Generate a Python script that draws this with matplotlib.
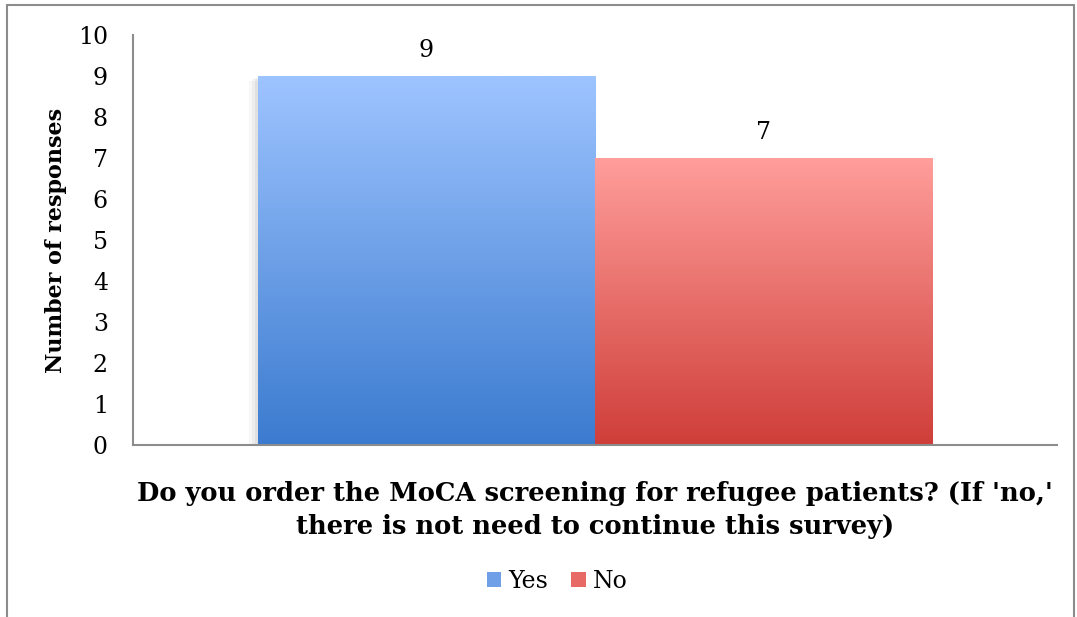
import matplotlib
matplotlib.use("Agg")
import matplotlib.pyplot as plt
import numpy as np
from matplotlib.colors import LinearSegmentedColormap
from matplotlib.patches import Rectangle, Patch

# data
categories = [""]
series_names = ["Yes", "No"]
series_values = [9, 7]
top_colors = ["#9EC4FF", "#FF9E9B"]
bottom_colors = ["#3B7BCF", "#CF3E39"]

fig = plt.figure(figsize=(10.77, 6.17), dpi=100)
ax = fig.add_axes([133 / 1077, 1 - 445 / 617, 924 / 1077, 410 / 617])

# outer frame like the original sheet
fig.patches.append(Rectangle((7 / 1077, -0.05), 1067 / 1077, 1.05 - 5 / 617,
                             transform=fig.transFigure, fill=False,
                             edgecolor="#8c8c8c", linewidth=1.5))

width = 0.365
x = np.arange(len(categories))
offsets = [-width / 2, width / 2]
for name, val, off, ctop, cbot in zip(series_names, series_values, offsets, top_colors, bottom_colors):
    cmap = LinearSegmentedColormap.from_list(name, [cbot, ctop])
    left = x[0] + off - width / 2
    # soft shadow
    for k, a in enumerate([0.05, 0.04, 0.03]):
        ax.add_patch(Rectangle((left - 0.003 * (k + 1), -0.04 * (k + 1)), width, val,
                               facecolor="#000000", alpha=a, edgecolor="none", zorder=1))
    bar = ax.bar(x[0] + off, val, width, color="none", edgecolor="none", zorder=2)[0]
    grad = np.linspace(0, 1, 256).reshape(-1, 1)
    im = ax.imshow(grad, cmap=cmap, aspect="auto", origin="lower",
                   extent=[left, left + width, 0, val], zorder=2)
    im.set_clip_path(bar)
    ax.text(x[0] + off, val + 0.35, str(val), ha="center", va="bottom",
            fontsize=17, family="DejaVu Serif")

ax.set_xlim(-0.5, 0.5)
ax.set_ylim(0, 10)
ax.set_yticks(range(0, 11))
ax.set_xticks([])
ax.tick_params(axis="y", length=0, pad=18, labelsize=17, labelfontfamily="DejaVu Serif")
for s in ["top", "right"]:
    ax.spines[s].set_visible(False)
ax.spines["left"].set_color("#8c8c8c")
ax.spines["bottom"].set_color("#8c8c8c")
ax.spines["left"].set_linewidth(1.5)
ax.spines["bottom"].set_linewidth(1.5)

ax.set_ylabel("Number of responses", fontsize=16, fontweight="bold",
              family="DejaVu Serif", labelpad=8)
ax.set_xlabel("Do you order the MoCA screening for refugee patients? (If 'no,'\n"
              "there is not need to continue this survey)",
              fontsize=18.5, fontweight="bold", family="DejaVu Serif", labelpad=26,
              linespacing=1.4)

handles = [Patch(facecolor="#6f9fe6", label="Yes"), Patch(facecolor="#e86a66", label="No")]
fig.legend(handles=handles, loc="center", bbox_to_anchor=(557 / 1077, 1 - 581 / 617),
           ncol=2, frameon=False, prop={"family": "DejaVu Serif", "size": 17},
           handlelength=0.6, handleheight=0.6, handletextpad=0.3, columnspacing=1.0)

fig.savefig("out.png", dpi=100)
